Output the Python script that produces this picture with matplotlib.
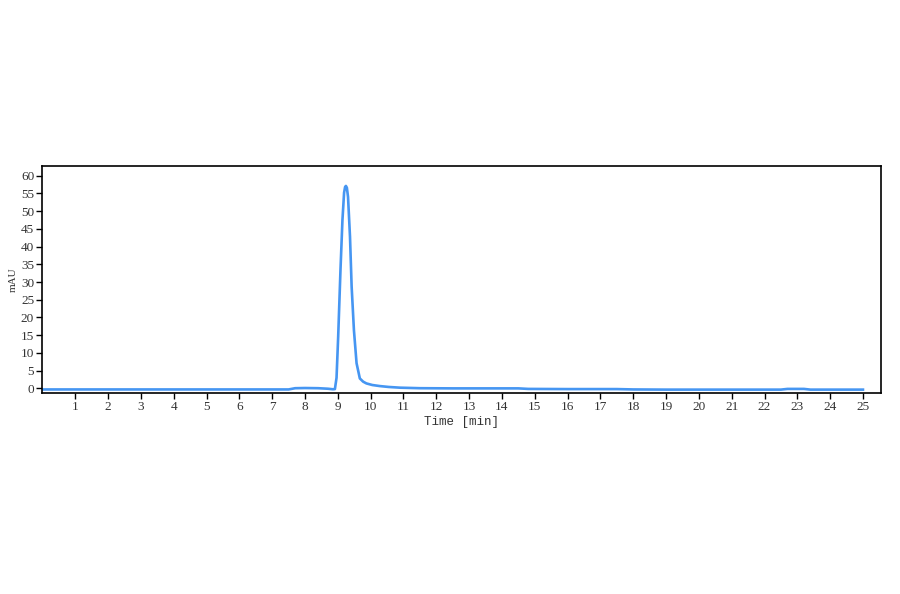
import matplotlib
matplotlib.use("Agg")
import matplotlib.pyplot as plt

# Chromatogram trace (time in min, signal in mAU)
time_min = [0.0, 2.0, 4.0, 6.0, 7.5, 7.7, 8.0, 8.4, 8.7, 8.85, 8.91, 8.96,
            9.01, 9.08, 9.14, 9.19, 9.22, 9.245, 9.275, 9.31, 9.37, 9.42, 9.49, 9.57,
            9.67, 9.77, 9.87, 10.05, 10.28, 10.55, 10.89, 11.5, 12.5, 13.5,
            14.5, 14.8, 16.0, 17.5, 18.0, 19.0, 21.0, 22.5, 22.7, 23.2,
            23.4, 24.5, 25.0]
signal_mau = [-0.3, -0.3, -0.3, -0.3, -0.3, 0.05, 0.1, 0.05, -0.1, -0.25, -0.2, 3.0,
              14.6, 33.4, 47.5, 55.2, 56.8, 57.1, 56.6, 54.0, 42.8, 28.7, 16.4, 7.1,
              2.8, 1.9, 1.4, 0.95, 0.65, 0.4, 0.2, 0.05, 0.0, 0.0,
              0.0, -0.15, -0.2, -0.2, -0.3, -0.35, -0.35, -0.35, -0.15, -0.15,
              -0.35, -0.35, -0.35]

x_ticks = list(range(1, 26))
y_ticks = list(range(0, 61, 5))

fig = plt.figure(figsize=(9, 5.94), dpi=100)
ax = fig.add_axes([0.0472, 0.3384, 0.9317, 0.3826])
ax.plot(time_min, signal_mau, color="#4696f2", linewidth=1.9, solid_joinstyle="round")

ax.set_xlim(0, 25.55)
ax.set_ylim(-1.3, 62.8)
ax.set_xticks(x_ticks)
ax.set_xticklabels([str(t) for t in x_ticks])
ax.set_yticks(y_ticks)
ax.set_yticklabels([str(t) for t in y_ticks])

for s in ax.spines.values():
    s.set_color("black")
    s.set_linewidth(1.2)
ax.tick_params(direction="out", length=4, width=1, colors="black",
               labelsize=9.5, pad=2, labelcolor="#333333")
for lab in ax.get_xticklabels() + ax.get_yticklabels():
    lab.set_family("Liberation Serif")

ax.set_xlabel("Time [min]", fontsize=9, family="Liberation Mono", color="#333333", labelpad=2)
ax.set_ylabel("mAU", fontsize=8, family="Liberation Serif", color="#333333", labelpad=2)

fig.savefig("out.png", dpi=100, facecolor="white")
